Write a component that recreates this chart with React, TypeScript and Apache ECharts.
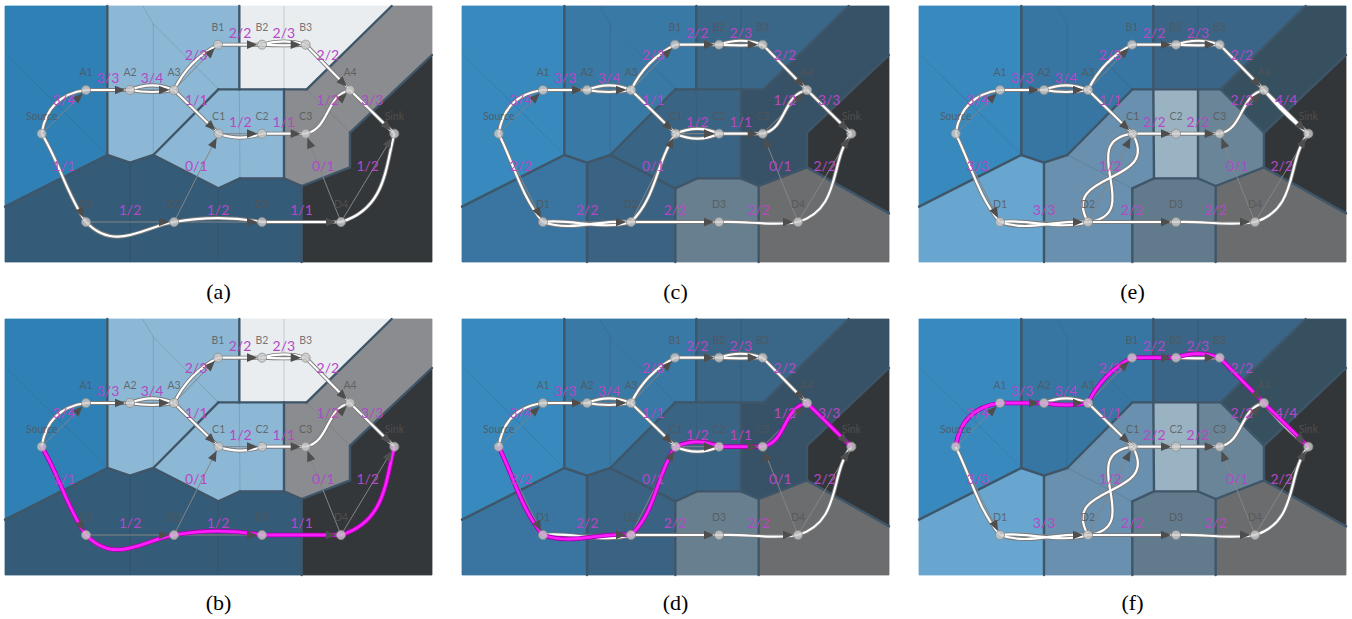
import React, { useEffect, useRef } from 'react';
import * as echarts from 'echarts';

// ---------------- data ----------------
const nodeNames = ['Source', 'A1', 'A2', 'A3', 'B1', 'B2', 'B3', 'A4', 'Sink', 'C1', 'C2', 'C3', 'D1', 'D2', 'D3', 'D4'];
const nodeX = [125, 258, 390, 522, 654, 786, 917, 1050, 1183, 656, 786, 917, 258, 522, 786, 1023];
const nodeY = [401, 270, 270, 270, 134, 134, 134, 270, 401, 401, 401, 401, 666, 666, 666, 666];

const edgeFrom = ['Source', 'A1', 'A2', 'A3', 'B1', 'B2', 'B3', 'A3', 'C1', 'C2', 'C3', 'A4', 'Source', 'D2', 'D4', 'D4', 'D1', 'D2', 'D3'];
const edgeTo = ['A1', 'A2', 'A3', 'B1', 'B2', 'B3', 'A4', 'C1', 'C2', 'C3', 'A4', 'Sink', 'D1', 'C1', 'C3', 'Sink', 'D2', 'D3', 'D4'];

const flowA = [3, 3, 3, 2, 2, 2, 2, 1, 1, 1, 1, 3, 1, 0, 0, 1, 1, 1, 1];
const capA = [4, 3, 4, 3, 2, 3, 2, 1, 2, 1, 2, 3, 1, 1, 1, 2, 2, 2, 1];
const flowC = [3, 3, 3, 2, 2, 2, 2, 1, 1, 1, 1, 3, 2, 0, 0, 2, 2, 2, 2];
const capC = [4, 3, 4, 3, 2, 3, 2, 1, 2, 1, 2, 3, 2, 1, 1, 2, 2, 2, 2];
const flowE = [3, 3, 3, 2, 2, 2, 2, 1, 2, 2, 2, 4, 3, 1, 0, 2, 3, 2, 2];
const capE = [4, 3, 4, 3, 2, 3, 2, 1, 2, 2, 2, 4, 3, 2, 1, 2, 3, 2, 2];

const pathB = ['Source', 'D1', 'D2', 'D3', 'D4', 'Sink'];
const pathD = ['Source', 'D1', 'D2', 'C1', 'C2', 'C3', 'A4', 'Sink'];
const pathF = ['Source', 'A1', 'A2', 'A3', 'B1', 'B2', 'B3', 'A4', 'Sink'];

const captions = ['(a)', '(c)', '(e)', '(b)', '(d)', '(f)'];

// Voronoi cell geometry (one cell per node, same order as nodeNames)
const vertX = [15, 322, 428, 718, 852, 1175, 1296, 1296, 1296, 1296, 905, 655, 390, 15, 15, 15, 322, 390, 460, 460, 655, 718, 852, 920, 1050, 1050, 905, 852, 720, 655];
const vertY = [18, 18, 18, 18, 18, 18, 18, 165, 640, 786, 786, 786, 786, 786, 620, 160, 465, 488, 465, 72, 268, 268, 268, 268, 398, 502, 558, 535, 535, 565];
const cellVerts = [
  [15, 16, 14],
  [0, 1, 16, 15],
  [1, 2, 19, 18, 17, 16],
  [19, 20, 18],
  [2, 3, 21, 20, 19],
  [3, 4, 22, 21],
  [4, 5, 23, 22],
  [5, 6, 7, 24, 23],
  [7, 8, 25, 24],
  [20, 21, 28, 29, 18],
  [21, 22, 27, 28],
  [22, 23, 24, 25, 26, 27],
  [14, 16, 17, 12, 13],
  [17, 18, 29, 11, 12],
  [29, 28, 27, 26, 10, 11],
  [25, 8, 9, 10, 26],
];

// cluster of each cell, per panel set
const clusterA = [0, 0, 1, 1, 1, 2, 2, 3, 4, 5, 5, 3, 6, 6, 6, 4];
const clusterC = [0, 0, 1, 1, 1, 2, 2, 3, 4, 5, 5, 3, 6, 7, 8, 9];
const clusterE = [0, 0, 1, 1, 1, 2, 2, 3, 4, 5, 6, 7, 8, 5, 9, 10];

// ---------------- styles ----------------
const colorsA = ['#2e80b5', '#8db8d5', '#e9edf0', '#8a8c8f', '#33373a', '#8db8d5', '#345b77'];
const colorsC = ['#3789be', '#3979a6', '#3a6688', '#375266', '#333638', '#3a6483', '#3a74a0', '#3a6282', '#677f8f', '#6c6d6f'];
const colorsE = ['#3789be', '#3776a2', '#3a6587', '#36505f', '#333638', '#6990ae', '#9ab3c3', '#6a8598', '#69a6cf', '#627b8c', '#6b6c6e'];

// flow strand shapes: perpendicular control offsets (fraction of edge length)
const shapesA = [
  [[-0.25, -0.25]], [[0, 0]], [[0.06, 0.06], [-0.14, -0.14]], [[-0.11, -0.11]], [[0, 0]],
  [[-0.1, -0.1], [0.02, 0.02]], [[0, 0]], [[0, 0]], [[0.12, 0.12]], [[0, 0]],
  [[0.22, -0.22]], [[0, 0]], [[-0.03, 0.05]], [], [],
  [[0.3, 0.1]], [[0.35, 0.05]], [[-0.06, -0.06]], [[0, 0]],
];
const shapesC = [
  [[-0.25, -0.25]], [[0, 0]], [[0.06, 0.06], [-0.14, -0.14]], [[-0.11, -0.11]], [[0, 0]],
  [[-0.12, -0.12], [0.02, 0.02]], [[0, 0]], [[0, 0]], [[-0.15, -0.15], [0.15, 0.15]], [[0, 0]],
  [[0.22, -0.22]], [[0, 0]], [[0.0, 0.08]], [[0.12, -0.05]], [],
  [[0.3, -0.05]], [[0.12, -0.04], [-0.04, 0.1]], [[0, 0]], [[-0.02, 0.06]],
];
const shapesE = [
  [[-0.25, -0.25]], [[0, 0]], [[0.06, 0.06], [-0.14, -0.14]], [[-0.11, -0.11]], [[0, 0]],
  [[-0.12, -0.12], [0.02, 0.02]], [[0, 0]], [[0, 0]], [[0, 0]], [[0, 0]],
  [[0.22, -0.22]], [[0, 0], [0.04, 0.04]], [[0.0, 0.08]], [[0.5, -0.5], [-0.5, 0.5]], [],
  [[0.3, -0.05]], [[0.12, -0.04], [-0.04, 0.1]], [[0, 0]], [[-0.02, 0.06]],
];

const SETS: any = {
  a: { flow: flowA, cap: capA, cluster: clusterA, colors: colorsA, shapes: shapesA },
  c: { flow: flowC, cap: capC, cluster: clusterC, colors: colorsC, shapes: shapesC },
  e: { flow: flowE, cap: capE, cluster: clusterE, colors: colorsE, shapes: shapesE },
};

const panels = [
  { set: 'a', path: null, col: 0, row: 0 },
  { set: 'c', path: null, col: 1, row: 0 },
  { set: 'e', path: null, col: 2, row: 0 },
  { set: 'a', path: pathB, col: 0, row: 1 },
  { set: 'c', path: pathD, col: 1, row: 1 },
  { set: 'e', path: pathF, col: 2, row: 1 },
];

const PANEL_LEFT = [5, 462, 919];
const PANEL_TOP = [6, 319];
const PANEL_W = 427;
const PANEL_H = 256;
const CAPTION_Y = [291, 602];
const X_MIN = 15, X_MAX = 1296, Y_MIN = 18, Y_MAX = 786;

const BORDER = '#3f5669';
const FONT_LABEL = 'Lato, "DejaVu Sans", sans-serif';

function bordersFor(cluster: number[]) {
  const map = new Map<string, any>();
  cellVerts.forEach((vs, ci) => {
    vs.forEach((v, k) => {
      const w = vs[(k + 1) % vs.length];
      const a = Math.min(v, w), b = Math.max(v, w);
      const key = a + '-' + b;
      if (!map.has(key)) map.set(key, { a, b, cells: [] as number[] });
      map.get(key).cells.push(ci);
    });
  });
  const list = [...map.values()]
    .filter((e) => e.cells.length === 2)
    .map((e) => ({ a: e.a, b: e.b, thick: cluster[e.cells[0]] !== cluster[e.cells[1]] }));
  list.sort((p, q) => Number(p.thick) - Number(q.thick));
  return list;
}

function bez(p0: number[], p3: number[], a1: number, a2: number) {
  const dx = p3[0] - p0[0], dy = p3[1] - p0[1];
  const nx = -dy, ny = dx;
  return {
    x1: p0[0], y1: p0[1], x2: p3[0], y2: p3[1],
    cpx1: p0[0] + dx / 3 + nx * a1, cpy1: p0[1] + dy / 3 + ny * a1,
    cpx2: p0[0] + (2 * dx) / 3 + nx * a2, cpy2: p0[1] + (2 * dy) / 3 + ny * a2,
  };
}

function nodeIdx(name: string) {
  return nodeNames.indexOf(name);
}

function panelSeries(gi: number, p: any) {
  const sd = SETS[p.set];
  const base = { coordinateSystem: 'cartesian2d', xAxisIndex: gi, yAxisIndex: gi, silent: true };
  const npx = (api: any, name: string) => {
    const k = nodeIdx(name);
    return api.coord([nodeX[k], nodeY[k]]);
  };
  const out: any[] = [];

  // regions
  out.push({
    ...base, type: 'custom', z: 1,
    data: cellVerts.map((_, i) => [i, 0]),
    renderItem: (params: any, api: any) => {
      const i = params.dataIndex;
      const pts = cellVerts[i].map((v) => api.coord([vertX[v], vertY[v]]));
      const color = sd.colors[sd.cluster[i]];
      return { type: 'polygon', shape: { points: pts }, style: { fill: color, stroke: color, lineWidth: 0.8 } };
    },
  });

  // region borders
  const borders = bordersFor(sd.cluster);
  out.push({
    ...base, type: 'custom', z: 2,
    data: borders.map((_, i) => [i, 0]),
    renderItem: (params: any, api: any) => {
      const e = borders[params.dataIndex];
      const s = api.coord([vertX[e.a], vertY[e.a]]);
      const t = api.coord([vertX[e.b], vertY[e.b]]);
      return {
        type: 'line',
        shape: { x1: s[0], y1: s[1], x2: t[0], y2: t[1] },
        style: e.thick
          ? { stroke: BORDER, lineWidth: 2.4, lineCap: 'round' }
          : { stroke: 'rgba(30,50,70,0.22)', lineWidth: 0.8 },
      };
    },
  });

  // straight edge lines
  out.push({
    ...base, type: 'custom', z: 3,
    data: edgeFrom.map((_, i) => [i, 0]),
    renderItem: (params: any, api: any) => {
      const i = params.dataIndex;
      const s = npx(api, edgeFrom[i]);
      const t = npx(api, edgeTo[i]);
      return {
        type: 'line',
        shape: { x1: s[0], y1: s[1], x2: t[0], y2: t[1] },
        style: { stroke: '#858585', lineWidth: 1 },
      };
    },
  });

  // flow tubes
  out.push({
    ...base, type: 'custom', z: 4,
    data: edgeFrom.map((_, i) => [i, 0]),
    renderItem: (params: any, api: any) => {
      const i = params.dataIndex;
      const s = npx(api, edgeFrom[i]);
      const t = npx(api, edgeTo[i]);
      const strands = sd.shapes[i];
      const children: any[] = [];
      strands.forEach((st: number[]) => {
        children.push({ type: 'bezierCurve', shape: bez(s, t, st[0], st[1]), style: { stroke: '#7a7a7a', lineWidth: 4, fill: 'none' } });
      });
      strands.forEach((st: number[]) => {
        children.push({ type: 'bezierCurve', shape: bez(s, t, st[0], st[1]), style: { stroke: '#ffffff', lineWidth: 2.2, fill: 'none' } });
      });
      return { type: 'group', children };
    },
  });

  // highlighted path
  if (p.path) {
    const steps: number[] = [];
    for (let k = 0; k < p.path.length - 1; k++) {
      const ei = edgeFrom.findIndex((f, j) => f === p.path[k] && edgeTo[j] === p.path[k + 1]);
      if (ei >= 0) steps.push(ei);
    }
    out.push({
      ...base, type: 'custom', z: 5,
      data: steps.map((ei) => [ei, 0]),
      renderItem: (params: any, api: any) => {
        const i = steps[params.dataIndex];
        const s = npx(api, edgeFrom[i]);
        const t = npx(api, edgeTo[i]);
        const st = sd.shapes[i][0] || [0, 0];
        const sh = bez(s, t, st[0], st[1]);
        return {
          type: 'group',
          children: [
            { type: 'bezierCurve', shape: sh, style: { stroke: '#a400ac', lineWidth: 4.6, fill: 'none' } },
            { type: 'bezierCurve', shape: sh, style: { stroke: '#ff1cff', lineWidth: 2.8, fill: 'none' } },
          ],
        };
      },
    });
  }

  // arrow heads
  out.push({
    ...base, type: 'custom', z: 6,
    data: edgeFrom.map((_, i) => [i, 0]),
    renderItem: (params: any, api: any) => {
      const i = params.dataIndex;
      const s = npx(api, edgeFrom[i]);
      const t = npx(api, edgeTo[i]);
      const dx = t[0] - s[0], dy = t[1] - s[1];
      const len = Math.sqrt(dx * dx + dy * dy);
      const ux = dx / len, uy = dy / len;
      const tip = [t[0] - ux * 4.5, t[1] - uy * 4.5];
      const bc = [t[0] - ux * 15, t[1] - uy * 15];
      const px = -uy * 4.3, py = ux * 4.3;
      return {
        type: 'polygon',
        shape: { points: [tip, [bc[0] + px, bc[1] + py], [bc[0] - px, bc[1] - py]] },
        style: { fill: '#4e4e4e' },
      };
    },
  });

  // nodes
  out.push({
    ...base, type: 'scatter', z: 7,
    symbol: 'circle', symbolSize: 9,
    data: nodeX.map((x, i) => [x, nodeY[i]]),
    itemStyle: { color: '#cacaca', borderColor: '#8c8c8c', borderWidth: 1 },
    label: {
      show: true, position: 'inside', offset: [0, -18],
      formatter: (q: any) => nodeNames[q.dataIndex],
      color: '#555555', fontSize: 10.5, fontFamily: FONT_LABEL,
    },
  });

  // flow labels
  out.push({
    ...base, type: 'custom', z: 8,
    data: edgeFrom.map((_, i) => [i, 0]),
    renderItem: (params: any, api: any) => {
      const i = params.dataIndex;
      const s = npx(api, edgeFrom[i]);
      const t = npx(api, edgeTo[i]);
      return {
        type: 'text',
        x: (s[0] + t[0]) / 2,
        y: (s[1] + t[1]) / 2 - 12.5,
        style: {
          text: sd.flow[i] + '/' + sd.cap[i],
          fill: '#b548c6',
          font: '14px ' + FONT_LABEL,
          align: 'center', verticalAlign: 'middle',
          textAlign: 'center', textVerticalAlign: 'middle',
        },
      };
    },
  });

  return out;
}

function buildOption() {
  const grid: any[] = [], xAxis: any[] = [], yAxis: any[] = [], series: any[] = [], graphic: any[] = [];
  panels.forEach((p, gi) => {
    const left = PANEL_LEFT[p.col];
    const top = PANEL_TOP[p.row];
    grid.push({ left, top, width: PANEL_W, height: PANEL_H, show: false });
    xAxis.push({ type: 'value', gridIndex: gi, min: X_MIN, max: X_MAX, show: false });
    yAxis.push({ type: 'value', gridIndex: gi, min: Y_MIN, max: Y_MAX, inverse: true, show: false });
    series.push(...panelSeries(gi, p));
    graphic.push({
      type: 'text',
      x: left + PANEL_W / 2,
      y: CAPTION_Y[p.row],
      style: {
        text: captions[gi],
        fill: '#000',
        font: '22px "Liberation Serif", "Times New Roman", serif',
        align: 'center', verticalAlign: 'middle',
        textAlign: 'center', textVerticalAlign: 'middle',
      },
    });
  });
  return { animation: false, backgroundColor: '#ffffff', grid, xAxis, yAxis, series, graphic };
}

export default function App() {
  const ref = useRef<HTMLDivElement>(null);
  useEffect(() => {
    document.body.style.margin = '0';
    const chart = echarts.init(ref.current as HTMLDivElement, undefined, { renderer: 'svg' });
    chart.setOption(buildOption() as any);
    return () => chart.dispose();
  }, []);
  return <div ref={ref} style={{ width: 1352, height: 619 }} />;
}
